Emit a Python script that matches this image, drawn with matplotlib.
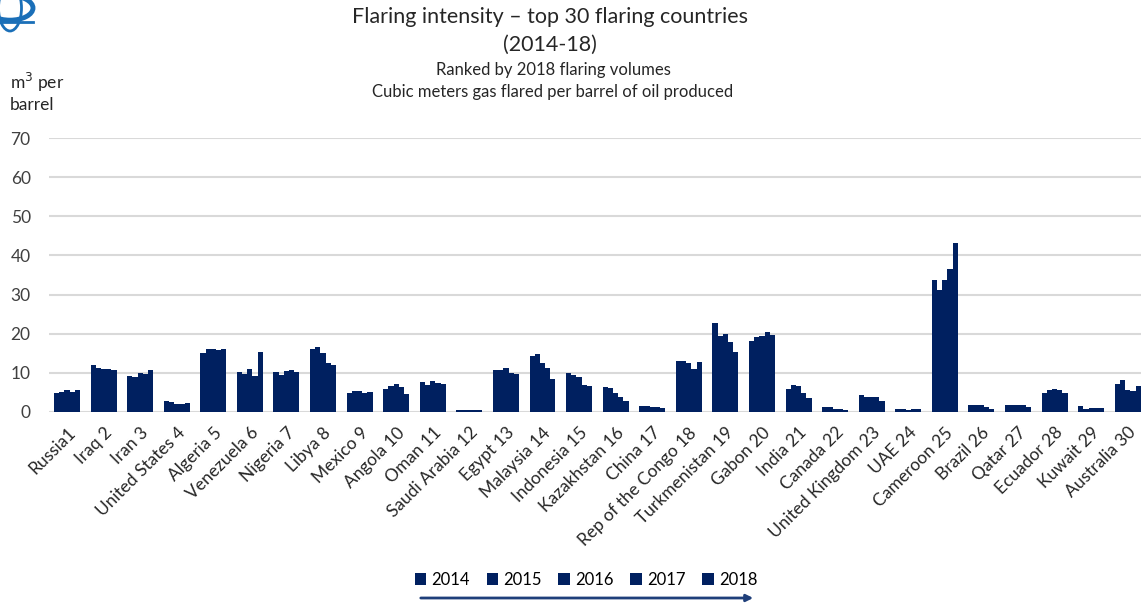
import matplotlib.pyplot as plt
import numpy as np
from matplotlib.patches import FancyArrowPatch, Circle, Ellipse

plt.rcParams['font.family'] = ['Lato', 'DejaVu Sans']

countries = ['Russia1', 'Iraq 2', 'Iran 3', 'United States 4', 'Algeria 5',
             'Venezuela 6', 'Nigeria 7', 'Libya 8', 'Mexico 9', 'Angola 10',
             'Oman 11', 'Saudi Arabia 12', 'Egypt 13', 'Malaysia 14',
             'Indonesia 15', 'Kazakhstan 16', 'China 17', 'Rep of the Congo 18',
             'Turkmenistan 19', 'Gabon 20', 'India 21', 'Canada 22',
             'United Kingdom 23', 'UAE 24', 'Cameroon 25', 'Brazil 26',
             'Qatar 27', 'Ecuador 28', 'Kuwait 29', 'Australia 30']
years = ['2014', '2015', '2016', '2017', '2018']

# m3 gas flared per barrel
v2014 = [4.8, 11.9, 9.2, 2.8, 15.0, 10.1, 10.1, 16.2, 4.8, 5.8,
         7.6, 0.6, 10.7, 14.3, 9.9, 6.5, 1.5, 13.1, 22.8, 18.1,
         6.0, 1.4, 4.3, 0.8, 33.7, 1.9, 1.9, 4.9, 1.5, 7.2]
v2015 = [5.1, 11.3, 8.9, 2.6, 16.2, 9.7, 9.5, 16.7, 5.4, 6.7,
         7.0, 0.6, 10.8, 14.7, 9.5, 6.1, 1.5, 13.1, 19.4, 19.1,
         6.9, 1.2, 3.9, 0.8, 31.1, 1.7, 1.7, 5.5, 0.8, 8.2]
v2016 = [5.6, 11.1, 9.9, 2.0, 16.0, 10.9, 10.6, 15.2, 5.4, 7.2,
         7.8, 0.6, 11.3, 12.4, 8.9, 4.8, 1.4, 12.6, 20.0, 19.5,
         6.6, 0.8, 3.9, 0.6, 33.7, 1.7, 1.7, 5.8, 1.1, 5.6]
v2017 = [5.0, 10.9, 9.8, 2.0, 15.8, 9.2, 10.7, 12.4, 4.8, 6.4,
         7.5, 0.5, 9.9, 11.2, 6.8, 3.9, 1.3, 10.9, 17.8, 20.5,
         4.8, 0.8, 3.9, 0.8, 36.6, 1.4, 1.7, 5.6, 0.9, 5.3]
v2018 = [5.5, 10.7, 10.7, 2.2, 16.0, 15.3, 10.1, 12.0, 5.2, 4.6,
         7.2, 0.4, 9.6, 8.4, 6.7, 2.8, 1.0, 12.7, 15.3, 19.6,
         3.5, 0.6, 2.9, 0.8, 43.1, 0.7, 1.4, 4.8, 0.9, 6.6]
series = [v2014, v2015, v2016, v2017, v2018]

navy = '#002060'
W, H = 1141, 603
fig = plt.figure(figsize=(W / 100, H / 100), dpi=100)
ax = fig.add_axes([48.7 / W, 1 - 412 / H, (1146 - 48.7) / W, (412 - 138) / H])

x = np.arange(len(countries))
bw = 0.142
for i, vals in enumerate(series):
    ax.bar(x + (i - 2) * bw, vals, width=bw, color=navy, label=years[i],
           linewidth=0)

ax.set_xlim(-0.5, len(countries) - 0.5)
ax.set_ylim(0, 70)
ax.set_yticks(np.arange(0, 71, 10))
ax.yaxis.grid(True, color='#d9d9d9', linewidth=1.5)
ax.set_axisbelow(True)
for s in ax.spines.values():
    s.set_visible(False)
ax.tick_params(axis='both', length=0, labelsize=12.5, colors='#404040')
ax.tick_params(axis='y', pad=13)
ax.tick_params(axis='x', pad=9)
ax.set_xticks(x)
ax.set_xticklabels(countries, rotation=45, ha='right', rotation_mode='anchor',
                   fontsize=12.5, color='#262626')

# titles
fig.text(550 / W, 1 - 17 / H, 'Flaring intensity \u2013 top 30 flaring countries',
         ha='center', va='center', fontsize=15.5, color='#262626')
fig.text(550 / W, 1 - 45 / H, '(2014-18)', ha='center', va='center',
         fontsize=15.5, color='#262626')
fig.text(553 / W, 1 - 70 / H, 'Ranked by 2018 flaring volumes', ha='center',
         va='center', fontsize=12, color='#262626')
fig.text(553 / W, 1 - 92 / H, 'Cubic meters gas flared per barrel of oil produced',
         ha='center', va='center', fontsize=12, color='#262626')
fig.text(10 / W, 1 - 92 / H, 'm$^3$ per\nbarrel', ha='left', va='center',
         fontsize=12.5, color='#262626', linespacing=1.2)

# legend + arrow
fig.legend(loc='center', bbox_to_anchor=(586 / W, 1 - 580 / H), ncol=5,
           frameon=False, fontsize=12, handlelength=0.7, handleheight=0.7,
           handletextpad=0.3, columnspacing=1.0)
fig.patches.append(FancyArrowPatch((418 / W, 1 - 598 / H), (756 / W, 1 - 598 / H),
                                   transform=fig.transFigure, arrowstyle='-|>',
                                   mutation_scale=10, color='#1f3f7a', lw=2))

# partial globe logo, top-left corner
cx, cy, r = 10, 8, 23
fig.patches.append(Circle((cx / W, 1 - cy / H), r / W, transform=fig.transFigure,
                          fill=False, ec='#1a6fb8', lw=3.5))
fig.patches.append(Ellipse((cx / W, 1 - cy / H), r / W, 2 * r / H,
                           transform=fig.transFigure, fill=False, ec='#1a6fb8', lw=2))
fig.lines.append(plt.Line2D([0, (cx + r) / W], [1 - 22 / H, 1 - 22 / H],
                            transform=fig.transFigure, color='#1a6fb8', lw=2))

fig.savefig('out.png', dpi=100)
